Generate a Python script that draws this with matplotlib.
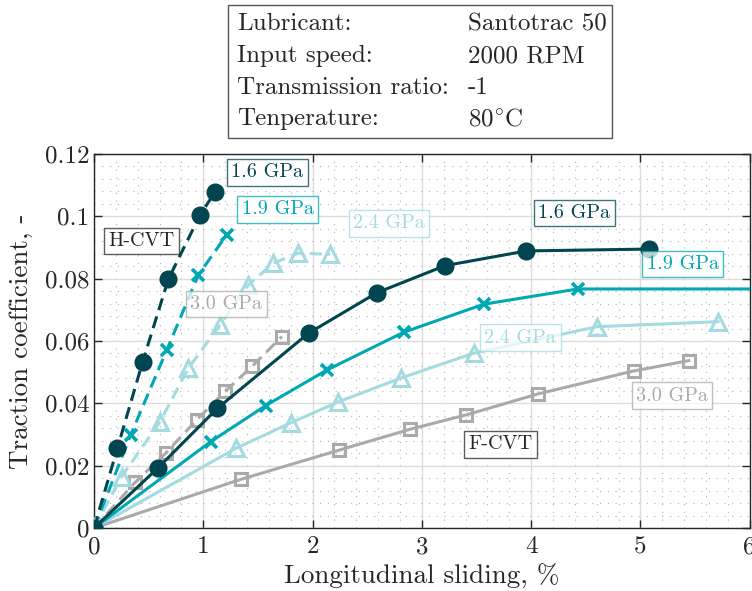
import matplotlib
matplotlib.use("Agg")
import matplotlib.pyplot as plt
import matplotlib.patches as mpatches
from matplotlib.ticker import MultipleLocator, FuncFormatter

plt.rcParams["font.family"] = ["cmr10", "DejaVu Serif"]
plt.rcParams["mathtext.fontset"] = "cm"
plt.rcParams["axes.formatter.use_mathtext"] = True
plt.rcParams["axes.unicode_minus"] = False

# ── data: H-CVT (dashed) ─────────────────────────────────────────────────────
h16_x = [0, 0.214, 0.446, 0.680, 0.971, 1.108]
h16_y = [0, 0.0256, 0.0534, 0.0798, 0.1005, 0.1078]
h19_x = [0, 0.336, 0.666, 0.955, 1.215]
h19_y = [0, 0.0299, 0.0571, 0.0812, 0.0941]
h24_x = [0, 0.253, 0.604, 0.864, 1.154, 1.413, 1.642, 1.871, 2.161]
h24_y = [0, 0.0165, 0.0341, 0.0513, 0.0652, 0.0780, 0.0850, 0.0882, 0.0878]
h30_x = [0, 0.375, 0.656, 0.940, 1.200, 1.450, 1.719]
h30_y = [0, 0.0146, 0.0240, 0.0347, 0.0438, 0.0520, 0.0614]

# ── data: F-CVT (solid) ──────────────────────────────────────────────────────
f16_x = [0, 0.589, 1.129, 1.963, 2.589, 3.214, 3.956, 5.076]
f16_y = [0, 0.0194, 0.0384, 0.0625, 0.0755, 0.0842, 0.0889, 0.0895]
f19_x = [0, 1.068, 1.572, 2.131, 2.833, 3.565, 4.426, 6.4]
f19_y = [0, 0.0277, 0.0393, 0.0507, 0.0628, 0.0718, 0.0767, 0.0767]
f24_x = [0, 1.300, 1.804, 2.237, 2.808, 3.474, 4.603, 5.711]
f24_y = [0, 0.0256, 0.0338, 0.0405, 0.0481, 0.0561, 0.0646, 0.0662]
f30_x = [0, 1.343, 2.244, 2.894, 3.407, 4.060, 4.939, 5.442]
f30_y = [0, 0.0156, 0.0250, 0.0317, 0.0363, 0.0430, 0.0504, 0.0537]

table_keys = ["Lubricant:", "Input speed:", "Transmission ratio:", "Tenperature:"]
table_vals = ["Santotrac 50", "2000 RPM", "-1", r"$\mathrm{80^{\circ}C}$"]

C16 = "#00454f"
C19 = "#00a8b3"
C24 = "#a3dbe1"
C30 = "#aaaaaa"
INK = "#262626"

styles = {
    "16": dict(color=C16, marker="o", ms=12, mfc=C16, mec=C16),
    "19": dict(color=C19, marker="x", ms=8, mew=2.6),
    "24": dict(color=C24, marker="^", ms=11, mfc="none", mew=2.2),
    "30": dict(color=C30, marker="s", ms=8, mfc="none", mew=2.2),
}

fig = plt.figure(figsize=(7.52, 5.91), dpi=100)
ax = fig.add_axes([0.125, 0.1066, 0.872, 0.6328])

LW = 2.2
for key, xs, ys in [("30", h30_x, h30_y), ("24", h24_x, h24_y),
                    ("19", h19_x, h19_y), ("16", h16_x, h16_y)]:
    ax.plot(xs, ys, lw=LW, dashes=(4, 2.2), zorder=3, **styles[key])
for key, xs, ys in [("30", f30_x, f30_y), ("24", f24_x, f24_y),
                    ("19", f19_x, f19_y), ("16", f16_x, f16_y)]:
    ax.plot(xs, ys, lw=LW, ls="-", zorder=3, **styles[key])

ax.set_xlim(0, 6)
ax.set_ylim(0, 0.12)
ax.xaxis.set_major_locator(MultipleLocator(1))
ax.xaxis.set_minor_locator(MultipleLocator(0.2))
ax.yaxis.set_major_locator(MultipleLocator(0.02))
ax.yaxis.set_minor_locator(MultipleLocator(0.004))
ax.yaxis.set_major_formatter(FuncFormatter(lambda v, p: f"{v:g}"))
ax.xaxis.set_major_formatter(FuncFormatter(lambda v, p: f"{v:g}"))
ax.grid(which="major", color="#dcdcdc", lw=1.0, ls="-", zorder=0)
ax.grid(which="minor", color="#b4b4b4", lw=0.8, ls=(0, (1, 6)), zorder=0)
ax.set_axisbelow(True)
ax.tick_params(which="major", direction="in", length=6, width=1,
               top=True, right=True, labelsize=18, colors=INK)
ax.tick_params(axis="x", which="major", pad=6)
ax.tick_params(which="minor", length=0)
for sp in ax.spines.values():
    sp.set_edgecolor(INK)
    sp.set_linewidth(1)
ax.set_xlabel("Longitudinal sliding, %", fontsize=19.5, color=INK, labelpad=4)
ax.set_ylabel("Traction coefficient, -", fontsize=19.5, color=INK, labelpad=8)

def tag(x, y, s, col):
    ax.text(x, y, s, color=col, fontsize=14.5, ha="center", va="center", zorder=5,
            bbox=dict(boxstyle="square,pad=0.22", facecolor="white",
                      edgecolor=col, lw=1.0, alpha=0.75))

tag(1.584, 0.1141, "1.6 GPa", C16)
tag(1.680, 0.1022, "1.9 GPa", C19)
tag(2.700, 0.0977, "2.4 GPa", C24)
tag(1.209, 0.0719, "3.0 GPa", C30)
tag(0.437, 0.0921, "H-CVT", INK)
tag(4.396, 0.1011, "1.6 GPa", C16)
tag(5.385, 0.0847, "1.9 GPa", C19)
tag(3.900, 0.0610, "2.4 GPa", C24)
tag(5.288, 0.0425, "3.0 GPa", C30)
tag(3.723, 0.0268, "F-CVT", INK)

# ── info box above the axes ──────────────────────────────────────────────────
W, H = 752.0, 591.0
fig.patches.append(mpatches.Rectangle(
    (228 / W, 1 - 138 / H), (612 - 228) / W, (138 - 5) / H,
    transform=fig.transFigure, facecolor="white", edgecolor="#555555", lw=1.0))
row_y = [24, 56, 88, 119]
for yy, k, v in zip(row_y, table_keys, table_vals):
    fig.text(237 / W, 1 - yy / H, k, fontsize=18, va="center", ha="left", color=INK)
    fig.text(468 / W, 1 - yy / H, v, fontsize=18, va="center", ha="left", color=INK)

fig.savefig("out.png", dpi=100)
